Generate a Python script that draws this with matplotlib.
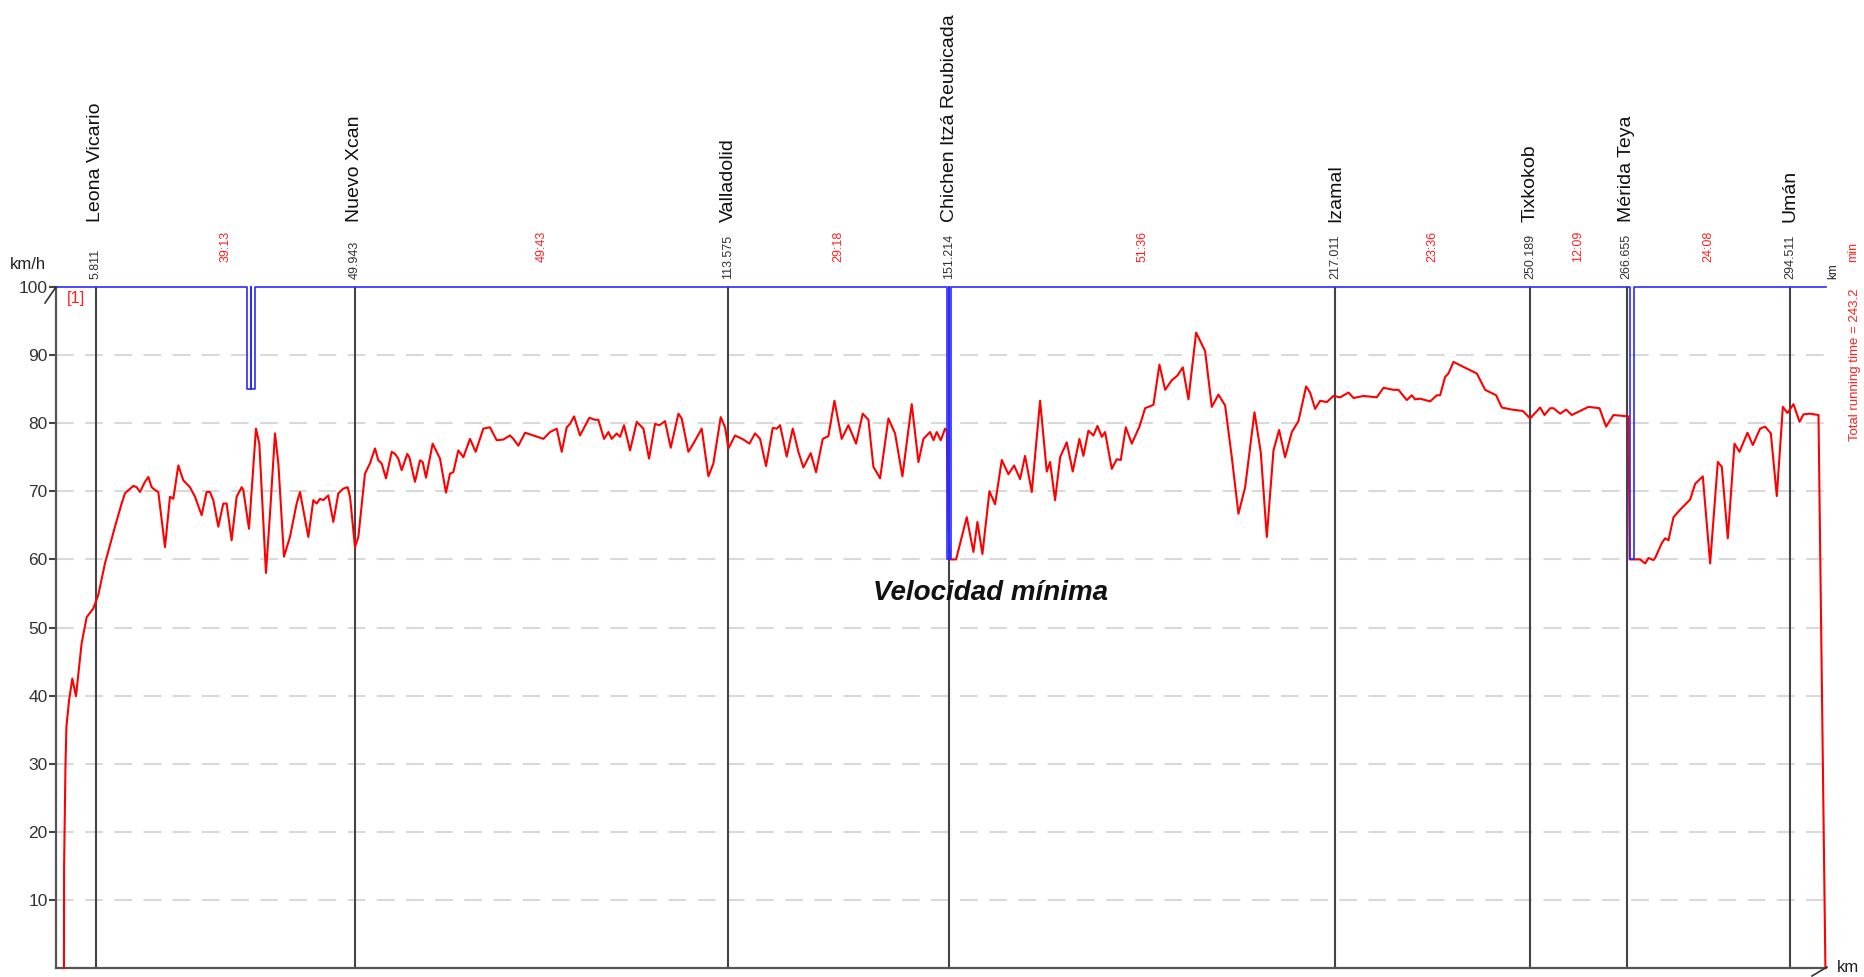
import matplotlib
matplotlib.use("Agg")
import matplotlib.pyplot as plt
from matplotlib.lines import Line2D

plt.rcParams['font.family'] = ['Liberation Sans', 'DejaVu Sans']

# ---------------- data ----------------
station_names = ["Leona Vicario", "Nuevo Xcan", "Valladolid", "Chichen Itzá Reubicada",
                 "Izamal", "Tixkokob", "Mérida Teya", "Umán"]
station_km = [5.811, 49.943, 113.575, 151.214, 217.011, 250.189, 266.655, 294.511]
station_km_labels = ["5.811", "49.943", "113.575", "151.214", "217.011", "250.189", "266.655", "294.511"]
segment_times = ["39:13", "49:43", "29:18", "51:36", "23:36", "12:09", "24:08"]

speed_km = [0.41, 0.43, 0.66, 0.83, 1.29, 1.83, 2.45, 3.42, 4.27, 5.41, 6.26, 7.39, 9.10, 10.23, 10.80,
            12.22, 12.79, 13.36, 14.21, 14.78, 15.35, 15.91, 16.48, 17.62, 18.47, 19.04, 19.89, 20.74,
            21.87, 22.73, 23.86, 24.71, 25.28, 25.85, 26.70, 27.55, 28.12, 28.97, 29.83, 30.68, 30.96,
            31.93, 33.12, 33.69, 34.82, 35.51, 36.36, 36.93, 37.89, 38.91, 40.05, 40.62, 42.04, 42.89,
            43.46, 44.02, 44.59, 45.44, 46.30, 47.15, 48.00, 48.74, 49.14, 49.99, 50.56, 51.69, 52.54,
            53.40, 53.96, 54.53, 55.27, 56.24, 56.80, 57.37, 57.94, 58.90, 59.25, 60.21, 61.06, 61.52,
            62.09, 63.22, 63.90, 64.47, 65.49, 66.17, 66.74, 67.59, 68.45, 69.58, 70.55, 71.85, 72.99,
            74.13, 75.26, 76.40, 76.97, 77.82, 78.96, 80.38, 82.08, 83.22, 84.36, 85.21, 86.06, 86.63,
            87.31, 88.33, 89.92, 90.89, 91.45, 92.42, 93.16, 93.73, 94.58, 95.15, 95.83, 96.85, 97.99,
            99.12, 100.09, 101.11, 101.85, 102.81, 103.78, 105.09, 105.65, 106.79, 107.64, 109.06,
            110.20, 111.05, 112.30, 113.04, 113.61, 114.74, 116.16, 117.18, 118.15, 119.00, 120.02,
            121.16, 121.84, 122.41, 123.54, 124.57, 125.53, 126.38, 127.63, 128.54, 129.68, 130.64,
            131.67, 132.91, 134.05, 135.36, 136.49, 137.46, 138.31, 139.45, 140.87, 142.00, 143.25,
            144.84, 145.98, 146.83, 147.97, 148.54, 149.10, 149.78, 150.52, 150.81, 151.09, 151.37,
            152.40, 154.21, 155.35, 156.03, 156.88, 158.08, 159.04, 160.18, 161.31, 162.28, 163.30,
            164.15, 165.29, 166.71, 167.84, 168.41, 169.26, 170.12, 171.25, 172.27, 173.41, 174.09,
            174.94, 175.80, 176.48, 177.22, 177.78, 178.92, 179.77, 180.45, 181.31, 182.33, 183.63,
            184.60, 186.02, 187.04, 188.01, 189.14, 190.11, 191.02, 191.98, 193.29, 194.82, 195.96,
            197.10, 198.23, 199.37, 200.50, 201.64, 203.23, 204.31, 205.33, 206.47, 207.43, 208.45,
            209.59, 210.72, 212.03, 212.71, 213.56, 214.42, 215.55, 216.69, 217.83, 219.25, 220.10,
            221.80, 224.07, 225.21, 226.91, 227.76, 229.18, 230.03, 230.60, 231.45, 233.16, 234.29,
            234.86, 235.71, 236.28, 237.13, 241.11, 242.53, 244.40, 245.37, 247.07, 248.95, 250.19,
            251.90, 252.64, 253.60, 254.17, 255.31, 256.33, 257.29, 258.71, 260.13, 262.01, 263.14,
            264.39, 266.95, 267.15, 268.94, 269.79, 270.36, 271.21, 271.49, 272.63, 273.20, 273.76,
            274.62, 275.75, 277.46, 278.31, 279.61, 280.86, 282.17, 282.85, 283.87, 285.01, 285.86,
            287.22, 288.13, 289.38, 290.24, 291.20, 292.22, 293.25, 294.04, 295.06, 296.09, 296.77,
            297.90, 299.32, 300.50]
speed_kmh = [0, 14.9, 29.6, 35.5, 39.4, 42.5, 39.9, 47.7, 51.5, 52.8, 54.8, 59.4, 64.8, 68.2, 69.7,
             70.8, 70.6, 69.9, 71.4, 72.1, 70.6, 70.2, 69.9, 61.8, 69.2, 68.9, 73.8, 71.6,
             70.6, 69.2, 66.5, 69.9, 69.9, 68.7, 64.8, 68.2, 68.2, 62.8, 69.2, 70.6, 70.2,
             64.5, 79.2, 77.0, 58.0, 66.7, 78.5, 74.1, 60.4, 63.3, 68.2, 69.9, 63.3, 68.7,
             68.2, 68.9, 68.7, 69.4, 65.5, 69.7, 70.4, 70.6, 69.2, 61.8, 63.3, 72.6, 74.1,
             76.3, 74.55, 74.1, 71.9, 75.8, 75.5, 74.8, 73.1, 75.5, 75.0, 71.4, 74.55, 74.3,
             72.0, 77.0, 75.8, 74.8, 69.8, 72.6, 72.8, 76.0, 75.0, 77.7, 75.8, 79.2, 79.4,
             77.5, 77.6, 78.2, 77.7, 76.7, 78.6, 78.2, 77.7, 78.7, 79.2, 75.8, 79.4, 79.9,
             81.0, 78.2, 80.8, 80.5, 80.5, 77.7, 78.7, 77.7, 78.5, 78.0, 79.7, 76.0, 80.2,
             79.2, 74.8, 79.9, 79.7, 80.3, 76.4, 81.4, 80.7, 75.8, 77.0, 79.2,
             72.2, 74.1, 80.9, 79.4, 76.3, 78.2, 77.6, 77.0, 78.5, 77.7, 73.7,
             79.3, 79.2, 79.7, 75.1, 79.2, 75.8, 73.5, 75.6, 72.8, 77.7, 78.1,
             83.3, 77.7, 79.7, 77.0, 81.4, 80.5, 73.6, 71.9, 80.7, 78.5, 72.2,
             82.8, 74.3, 77.7, 78.7, 77.5, 78.7, 77.5, 79.2, 78.9, 64.8, 60.0,
             60.0, 66.2, 61.1, 65.5, 60.8, 70.0, 68.1, 74.6, 72.5, 73.8, 71.8,
             75.2, 69.9, 83.3, 72.9, 74.3, 68.7, 75.0, 77.2, 72.9, 77.7, 75.2,
             78.9, 78.2, 79.6, 78.0, 78.7, 73.3, 74.7, 74.6, 79.4, 77.0, 79.5,
             82.2, 82.7, 88.6, 84.9, 86.3, 87.0, 88.2, 83.5, 93.3, 90.6, 82.4,
             84.2, 82.6, 75.0, 66.7, 70.6, 81.6, 75.7, 63.3, 76.0, 79.0, 75.0,
             78.7, 80.3, 85.4, 84.5, 82.1, 83.3, 83.1, 84.0, 83.8, 84.5, 83.7,
             84.0, 83.8, 85.2, 84.9, 84.9, 83.4, 84.1, 83.5, 83.6, 83.2, 84.1,
             84.1, 86.8, 87.3, 89.0, 87.3, 84.9, 84.1, 82.3, 82.0, 81.8, 80.7,
             82.3, 81.2, 82.2, 82.2, 81.4, 82.0, 81.2, 81.8, 82.4, 82.2, 79.5,
             81.2, 81.0, 60.0, 60.0, 59.4, 60.2, 59.9, 60.2, 62.4, 63.1, 62.8,
             66.2, 67.3, 68.8, 71.1, 72.2, 59.4, 74.3, 73.6, 63.1, 77.0, 75.8,
             78.6, 76.8, 79.2, 79.5, 78.5, 69.3, 82.4, 81.5, 82.8, 80.2, 81.3,
             81.4, 81.2, 0]

limit_km = [-0.95, 31.54, 31.54, 32.25, 32.25, 32.25, 32.96, 32.96,
            150.9, 150.9, 151.2, 151.2, 151.2, 151.5, 151.5,
            267.25, 267.25, 267.85, 267.85, 300.6]
limit_kmh = [100, 100, 85, 85, 100, 85, 85, 100,
             100, 60, 60, 100, 60, 60, 100,
             100, 60, 60, 100, 100]

y_ticks = [10, 20, 30, 40, 50, 60, 70, 80, 90, 100]
x_range = (-0.95, 300.6)
y_range = (0, 100)
total_time_text = "Total running time = 243.2"
min_speed_text = "Velocidad mínima"
min_speed_pos = (158.2, 55.1)

# ---------------- figure ----------------
W, H = 1864, 977
fig = plt.figure(figsize=(W / 100, H / 100), dpi=100)
ax = fig.add_axes([56 / W, 1 - 968 / H, (1826 - 56) / W, (968 - 287) / H])
ax.set_xlim(*x_range)
ax.set_ylim(*y_range)

for s in ["top", "right"]:
    ax.spines[s].set_visible(False)
for s in ["left", "bottom"]:
    ax.spines[s].set_color("#555555")
    ax.spines[s].set_linewidth(1.6)

ax.set_xticks([])
ax.set_yticks(y_ticks)
ax.set_yticklabels([str(v) for v in y_ticks])
ax.tick_params(axis="y", length=5, width=1.5, color="#444444", labelsize=12.5,
               labelcolor="#333333", pad=1)

# grid
for v in y_ticks[:-1]:
    ax.axhline(v, color="#d9d9d9", lw=1.5, dashes=(8.5, 5.5), zorder=1)

# station lines
for km in station_km:
    ax.plot([km, km], [0, 100], color="#444444", lw=1.5, zorder=2, solid_capstyle="butt")

# speed profile
ax.plot(speed_km, speed_kmh, color="#ff0000", lw=1.5, zorder=3, clip_on=False,
        solid_joinstyle="round")

# speed limit
ax.plot(limit_km, limit_kmh, color="#2b2bff", lw=1.2, zorder=4, clip_on=False)

# station labels
for name, km, lab in zip(station_names, station_km, station_km_labels):
    ax.annotate(name, xy=(km, 1), xycoords=("data", "axes fraction"), xytext=(0, 47),
                textcoords="offset points", rotation=90, ha="center", va="bottom",
                fontsize=14, color="#111111")
    ax.annotate(lab, xy=(km, 1), xycoords=("data", "axes fraction"), xytext=(0, 6),
                textcoords="offset points", rotation=90, ha="center", va="bottom",
                fontsize=9, color="#333333")

# segment running times at segment midpoints
for i, t in enumerate(segment_times):
    mid = (station_km[i] + station_km[i + 1]) / 2
    ax.annotate(t, xy=(mid, 1), xycoords=("data", "axes fraction"), xytext=(0, 18),
                textcoords="offset points", rotation=90, ha="center", va="bottom",
                fontsize=9, color="#ff2020")

# axis texts
ax.annotate("km/h", xy=(0, 1), xycoords="axes fraction", xytext=(-20, 16),
            textcoords="offset points", ha="center", va="center", fontsize=12, color="#222222")
ax.annotate("[1]", xy=(0, 1), xycoords="axes fraction", xytext=(14.5, -8),
            textcoords="offset points", ha="center", va="center", fontsize=12, color="#ff2020")
ax.annotate("km", xy=(1, 0), xycoords="axes fraction", xytext=(8, 0),
            textcoords="offset points", ha="left", va="center", fontsize=12, color="#222222")
ax.annotate("km", xy=(1, 1), xycoords="axes fraction", xytext=(5, 6),
            textcoords="offset points", rotation=90, ha="center", va="bottom", fontsize=8.5,
            color="#222222")
ax.annotate("min", xy=(1, 1), xycoords="axes fraction", xytext=(19.5, 18),
            textcoords="offset points", rotation=90, ha="center", va="bottom", fontsize=9,
            color="#ff2020")
ax.annotate(total_time_text, xy=(1, 1), xycoords="axes fraction", xytext=(21, -1),
            textcoords="offset points", rotation=90, ha="center", va="top", fontsize=9.5,
            color="#ff2020")

# note
ax.text(min_speed_pos[0], min_speed_pos[1], min_speed_text, ha="center", va="center",
        fontsize=20, fontweight="bold", fontstyle="italic", color="#111111", zorder=5)

# small axis-end marks
fig.add_artist(Line2D([45 / W, 56 / W], [1 - 303 / H, 1 - 287 / H], color="#333333", lw=1.2))
fig.add_artist(Line2D([1812 / W, 1827 / W], [1 - 976 / H, 1 - 967 / H], color="#333333", lw=1.2))

fig.savefig("out.png", dpi=100, facecolor="white")
